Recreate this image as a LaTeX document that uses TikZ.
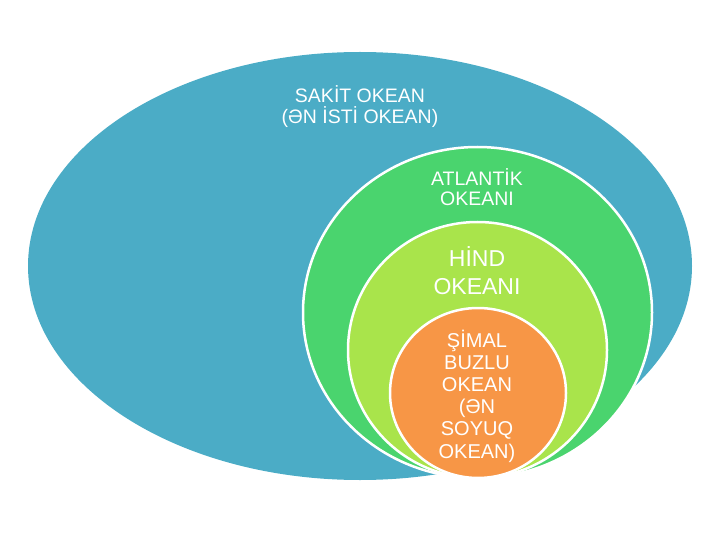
\documentclass[tikz,border=0pt]{standalone}
\usepackage{fontspec}
\setmainfont{Liberation Sans}
\usepackage{tikz}
\usetikzlibrary{positioning}
\usepackage{xcolor}
\definecolor{pacblue}{HTML}{4BACC6}
\definecolor{atlgreen}{HTML}{4AD46E}
\definecolor{hindlime}{HTML}{A9E44B}
\definecolor{arcorange}{HTML}{F79646}
\tikzset{
  ocean/.style={draw=white,line width=2.5pt},
  oceantext/.style={text=white,align=center,inner sep=0pt}
}

\begin{document}
\begin{tikzpicture}[x=1pt,y=-1pt]
    \useasboundingbox (0,0) rectangle (720,540);
    \fill[pacblue] (360,266) ellipse [x radius=332,y radius=214];
    \draw[ocean,fill=atlgreen] (477.5,312.5) ellipse [x radius=174.5,y radius=165.5];
    \draw[ocean,fill=hindlime] (477.5,350) ellipse [x radius=129.5,y radius=128];
    \draw[ocean,fill=arcorange] (478,393) ellipse [x radius=88,y radius=85];
    \node[oceantext,font=\fontsize{19.5}{21}\selectfont] (sakit) at (360,107)
      {SAKİT OKEAN\\(ƏN İSTİ OKEAN)};
    \node[oceantext,font=\fontsize{19.5}{20.5}\selectfont] (atlantik) at (477,187)
      {ATLANTİK\\OKEANI};
    \node[oceantext,font=\fontsize{23}{28}\selectfont] (hind) at (477,271)
      {HİND\\OKEANI};
    \node[oceantext,font=\fontsize{20}{22.2}\selectfont] (simal) at (477,396)
      {ŞİMAL\\BUZLU\\OKEAN\\(ƏN\\SOYUQ\\OKEAN)};
  \end{tikzpicture}
\end{document}
